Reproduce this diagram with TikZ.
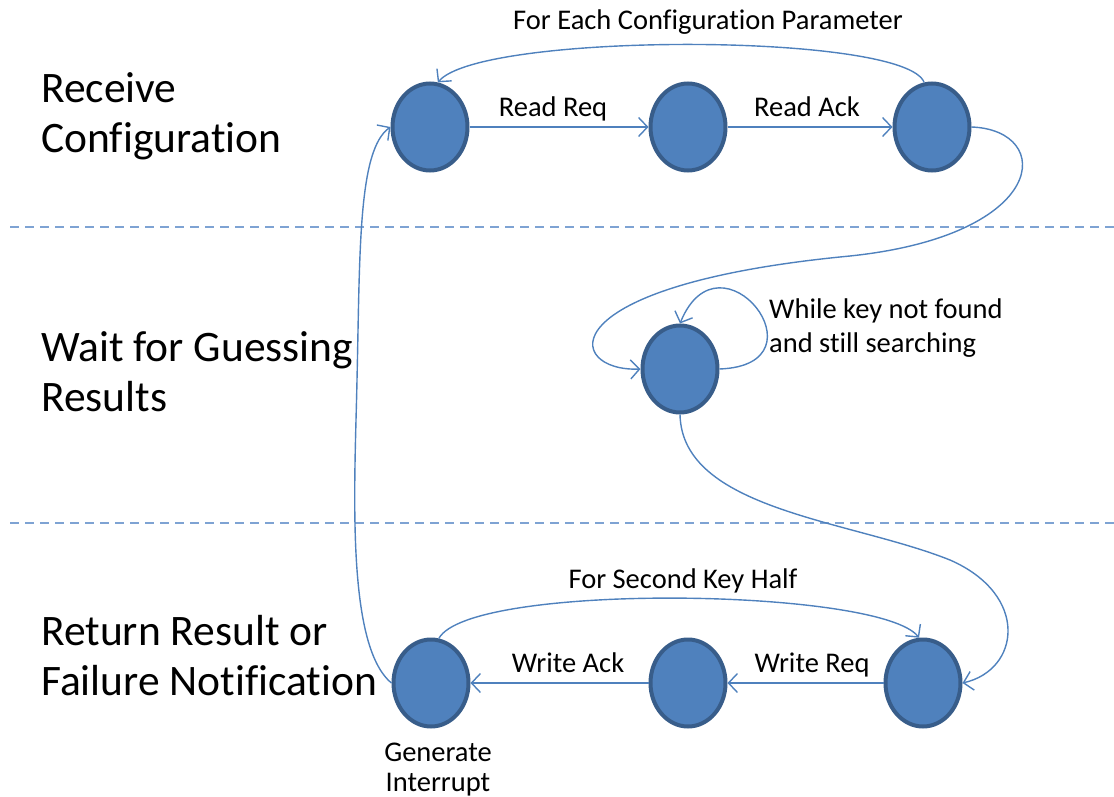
\documentclass[tikz,border=0pt]{standalone}
\usepackage{fontspec}
\setmainfont{Carlito}[Ligatures={NoCommon}]
\usetikzlibrary{arrows.meta,shapes.geometric}
\definecolor{stfill}{HTML}{4F81BD}
\definecolor{stborder}{HTML}{385D8A}
\definecolor{edgeblue}{HTML}{4F81BD}
\definecolor{sepblue}{HTML}{7EA3D3}
\begin{document}
\begin{tikzpicture}[x=1pt,y=-1pt,
  state/.style={ellipse, fill=stfill, draw=stborder, line width=4pt,
    minimum width=75pt, minimum height=87pt, inner sep=0pt},
  flow/.style={draw=edgeblue, line width=1.4pt,
    -{Straight Barb[length=9pt,width=19pt,line width=1.4pt]}},
  lbl/.style={font=\fontsize{28.5}{34}\selectfont, inner sep=0pt, anchor=base},
  lblw/.style={font=\fontsize{28.5}{34}\selectfont, inner sep=0pt, anchor=base west},
  big/.style={font=\fontsize{43.5}{50}\selectfont, inner sep=0pt, anchor=base west},
  divider/.style={draw=sepblue, line width=2pt, dash pattern=on 9pt off 6pt}]

\useasboundingbox (0,0) rectangle (1114,797);

% phase separators
\draw[divider] (10,227) -- (1114,227);
\draw[divider] (10,523) -- (1114,523);

% phase titles
\node[big] (recvA) at (41,103) {Receive};
\node[big] (recvB) at (41,153) {Configuration};
\node[big] (waitA) at (41,361) {Wait for Guessing};
\node[big] (waitB) at (41,411) {Results};
\node[big] (retA) at (41,645) {Return Result or};
\node[big] (retB) at (41,695) {Failure Notification};

% states
\node[state] (r1) at (430,127) {};
\node[state] (r2) at (688,127) {};
\node[state] (r3) at (932,127) {};
\node[state] (w)  at (680,369) {};
\node[state] (b1) at (431,683) {};
\node[state] (b2) at (688,683) {};
\node[state] (b3) at (923,683) {};

% reading the configuration
\draw[flow] (r1) -- (r2);
\draw[flow] (r2) -- (r3);
\node[lbl] (lrr) at (553,117) {Read Req};
\node[lbl] (lra) at (807,117) {Read Ack};
\draw[flow] (r3.100) .. controls (905,32) and (480,32) .. (r1.80);
\node[lbl] (lfe) at (708,30) {For Each Configuration Parameter};

% waiting for the search
\draw[flow] (r3.east) .. controls (1055,130) and (1050,235) .. (850,256)
  .. controls (545,285) and (565,372) .. (w.west);
\draw[flow] (w.east) .. controls (830,365) and (720,225) .. (w.north);
\node[lblw] (lwa) at (769,318) {While key not found};
\node[lblw] (lwb) at (769,352) {and still searching};

% returning the result
\draw[flow] (w.south) .. controls (682,510) and (850,520) .. (950,560)
  .. controls (1030,595) and (1020,670) .. (b3.east);
\draw[flow] (b3) -- (b2);
\draw[flow] (b2) -- (b1);
\node[lbl] (lwr) at (812,672) {Write Req};
\node[lbl] (lwk) at (568,672) {Write Ack};
\draw[flow] (b1.80) .. controls (470,582) and (880,588) .. (b3.95);
\node[lbl] (lsk) at (683,588) {For Second Key Half};
\node[lbl] (lga) at (438,761) {Generate};
\node[lbl] (lgb) at (438,791) {Interrupt};

% back to the start
\draw[flow] (b1.west) .. controls (345,645) and (355,480) .. (357,380)
  .. controls (360,250) and (358,150) .. (r1.west);
\end{tikzpicture}
\end{document}
